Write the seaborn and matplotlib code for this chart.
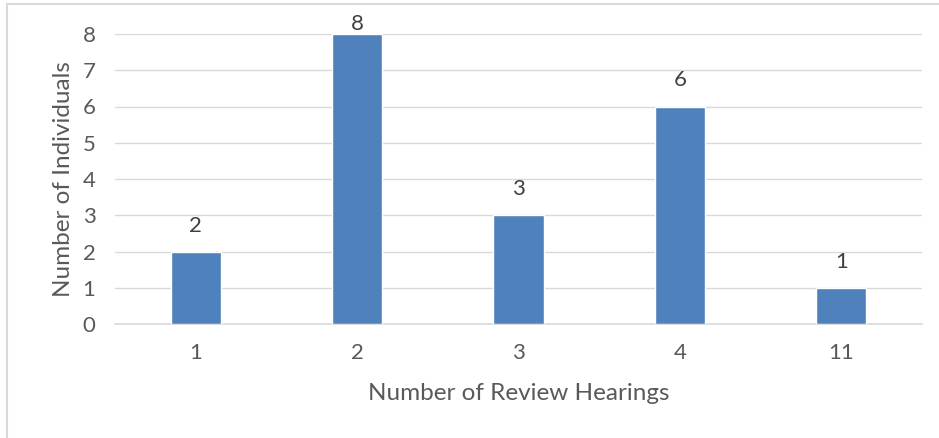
import matplotlib
matplotlib.use("Agg")
import matplotlib.pyplot as plt
import seaborn as sns
import pandas as pd
from matplotlib.patches import Rectangle

categories = ["1", "2", "3", "4", "11"]
counts = [2, 8, 3, 6, 1]
y_ticks = [0, 1, 2, 3, 4, 5, 6, 7, 8]

sns.set_theme(style="white")
plt.rcParams['font.family'] = ['Lato', 'DejaVu Sans']

df = pd.DataFrame({"hearings": categories, "individuals": counts})

W, H = 939, 438
fig = plt.figure(figsize=(W / 100, H / 100), dpi=100)
ax_top_px, ax_bot_px = 34, 324
ax = fig.add_axes([115 / W, (H - ax_bot_px) / H, (922 - 115) / W, (ax_bot_px - ax_top_px) / H])

sns.barplot(data=df, x="hearings", y="individuals", order=categories,
            color="#4F81BD", saturation=1, width=0.31, ax=ax, zorder=3)

ax.set_xlim(-0.5, len(categories) - 0.5)
ax.set_ylim(0, 8)
ax.set_yticks(y_ticks)
ax.yaxis.grid(True, color="#D9D9D9", linewidth=1, zorder=0)
ax.set_axisbelow(True)
for s in ["top", "right", "left"]:
    ax.spines[s].set_visible(False)
ax.spines["bottom"].set_color("#D9D9D9")
ax.spines["bottom"].set_linewidth(1.2)
ax.tick_params(axis="both", length=0, labelsize=16, colors="#595959")
ax.tick_params(axis="x", pad=14)
ax.tick_params(axis="y", pad=14)

unit_px = (ax_bot_px - ax_top_px) / 8
for i, v in enumerate(counts):
    off = min(26, (8 - v) * unit_px + 10)
    ax.annotate(str(v), (i, v), xytext=(0, off), textcoords="offset pixels",
                ha="center", va="center", fontsize=16, color="#404040",
                annotation_clip=False)

ax.set_xlabel("Number of Review Hearings", fontsize=17.5, color="#595959", labelpad=14)
ax.set_ylabel("Number of Individuals", fontsize=17.5, color="#595959", labelpad=6)

fig.patches.append(Rectangle((7 / W, -0.1), 1.2, (H - 4) / H + 0.1, transform=fig.transFigure,
                             fill=False, edgecolor="#D9D9D9", linewidth=1.5))

fig.savefig("out.png", dpi=100, facecolor="white")
